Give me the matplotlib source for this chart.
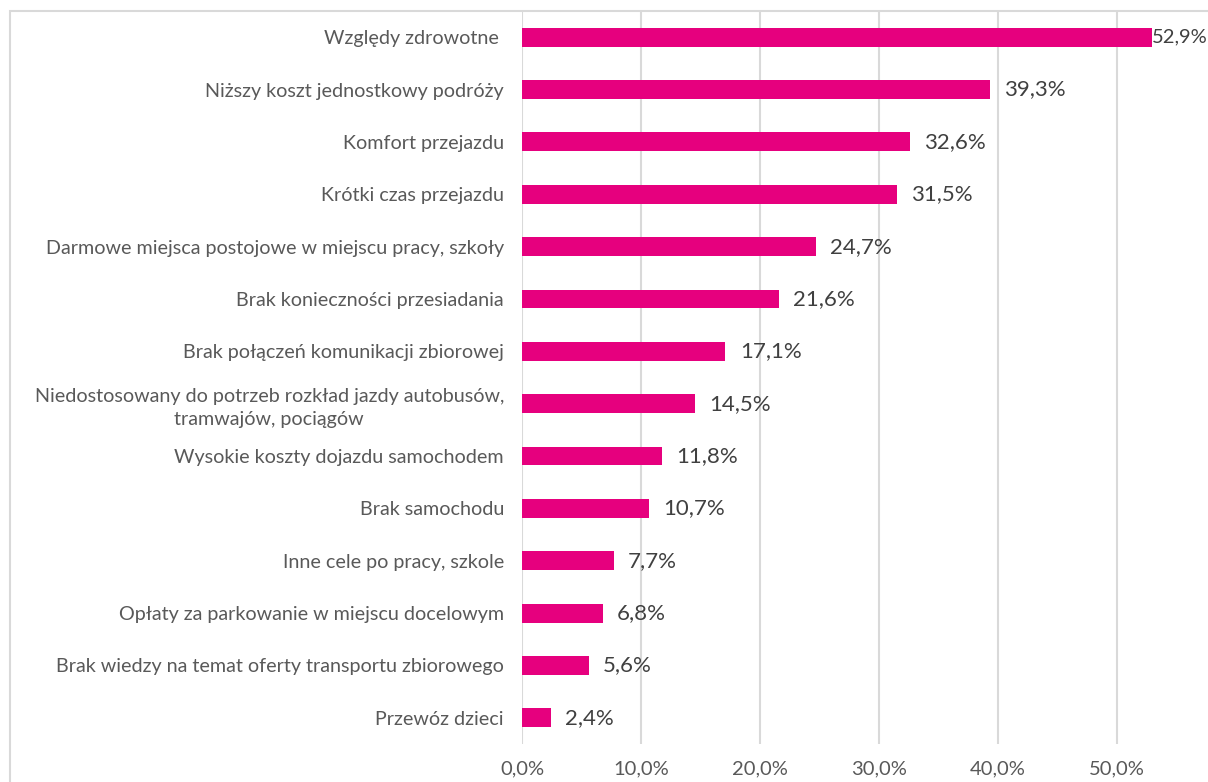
import matplotlib.pyplot as plt
from matplotlib.patches import Rectangle

# Powody wyboru środka transportu (odpowiedzi w %)
kategorie = [
    "Względy zdrowotne ",
    "Niższy koszt jednostkowy podróży",
    "Komfort przejazdu",
    "Krótki czas przejazdu",
    "Darmowe miejsca postojowe w miejscu pracy, szkoły",
    "Brak konieczności przesiadania",
    "Brak połączeń komunikacji zbiorowej",
    "Niedostosowany do potrzeb rozkład jazdy autobusów,\ntramwajów, pociągów",
    "Wysokie koszty dojazdu samochodem",
    "Brak samochodu",
    "Inne cele po pracy, szkole",
    "Opłaty za parkowanie w miejscu docelowym",
    "Brak wiedzy na temat oferty transportu zbiorowego",
    "Przewóz dzieci",
]
wartosci = [52.9, 39.3, 32.6, 31.5, 24.7, 21.6, 17.1, 14.5, 11.8, 10.7, 7.7, 6.8, 5.6, 2.4]
ticki = [0, 10, 20, 30, 40, 50]

plt.rcParams['font.family'] = ['Lato', 'DejaVu Sans']

fig = plt.figure(figsize=(12.08, 7.82), dpi=100)
ax = fig.add_axes([522 / 1208, 1 - 744 / 782, 714 / 1208, 733 / 782])

y = list(range(len(kategorie)))
ax.barh(y, wartosci, height=0.36, color="#E6007E", zorder=3)
ax.set_ylim(len(kategorie) - 0.5, -0.5)
ax.set_xlim(0, 60)

ax.set_yticks(y)
ax.set_yticklabels(kategorie, fontsize=14.2, color="#595959", multialignment="center",
                   linespacing=1.45)
ax.set_xticks(ticki)
ax.set_xticklabels([f"{t:.1f}%".replace(".", ",") for t in ticki], fontsize=14.5, color="#595959")
ax.tick_params(axis="y", length=0, pad=13)
ax.tick_params(axis="x", length=0, pad=12)

for s in ax.spines.values():
    s.set_visible(False)
ax.grid(axis="x", color="#D9D9D9", linewidth=1.5, zorder=0)

for i, v in enumerate(wartosci):
    # pierwsza etykieta dosunięta do słupka, żeby zmieściła się w ramce
    dx, fs = (0.02, 14.5) if i == 0 else (1.2, 16)
    ax.text(v + dx, i, f"{v:.1f}%".replace(".", ","), va="center", ha="left",
            fontsize=fs, color="#404040")

# ramka wykresu (przycięta na prawej i dolnej krawędzi)
fig.patches.append(Rectangle((9.5 / 1208, -0.1), 1.2, 1 - 10.5 / 782 + 0.1,
                             transform=fig.transFigure, fill=False,
                             edgecolor="#D9D9D9", linewidth=1.5))

fig.savefig("out.png", dpi=100)
